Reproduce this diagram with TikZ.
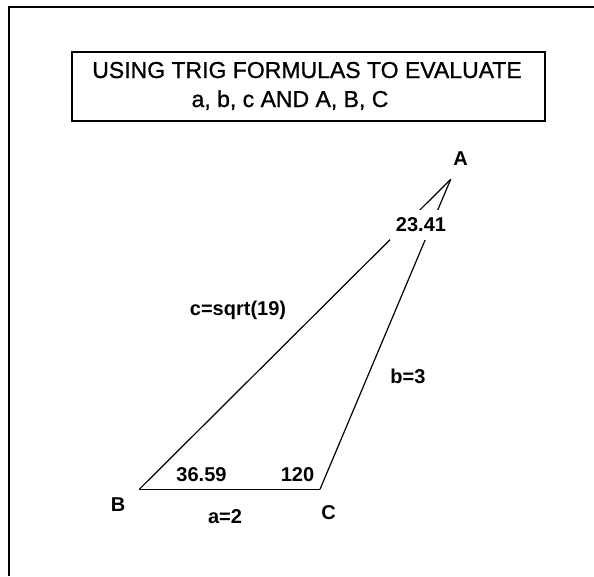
\documentclass[tikz,border=0pt]{standalone}
\usepackage{fontspec}
\setmainfont{Liberation Sans}
\newfontfamily\titlefont[FakeBold=0.9]{Liberation Sans}
\usepackage{tikz}

\begin{document}
\begin{tikzpicture}[x=1pt, y=-1pt,
  lbl/.style={font=\fontsize{20}{24}\selectfont\bfseries, anchor=base, inner sep=0pt},
  ttl/.style={font=\titlefont\fontsize{23}{28}\selectfont, anchor=base, inner sep=0pt},
  side/.style={line width=1.2pt}]

\useasboundingbox (0,0) rectangle (594,576);

%% frame
\draw[line width=2pt] (9,576) |- (594,7);

%% title
\node[draw, line width=1.6pt, minimum width=473pt, minimum height=69pt] (titlebox) at (308.5,86.5) {};
\node[ttl] (title1) at (307,78) {USING TRIG FORMULAS TO EVALUATE};
\node[ttl] (title2) at (290,107) {a, b, c AND A, B, C};

%% triangle
\coordinate (A) at (450.7,179.3);
\coordinate (B) at (139.3,489.3);
\coordinate (C) at (320,489.3);

\draw[side] (B) -- (C);
\draw[side] (C) -- (A);
\draw[side] (A) -- (B);

%% vertices
\node[lbl] (lA) at (460.5,165) {A};
\node[lbl] (lB) at (118,511) {B};
\node[lbl] (lC) at (328.5,519) {C};

%% angles
\node[lbl, fill=white, inner xsep=6pt, inner ysep=8pt] (angA) at (421,231.7) {23.41};
\node[lbl] (angB) at (201.5,481) {36.59};
\node[lbl] (angC) at (297.5,481) {120};

%% sides
\node[lbl] (sa) at (225,523) {a=2};
\node[lbl] (sb) at (408,383) {b=3};
\node[lbl] (sc) at (238,315.8) {c=sqrt(19)};
\end{tikzpicture}
\end{document}
